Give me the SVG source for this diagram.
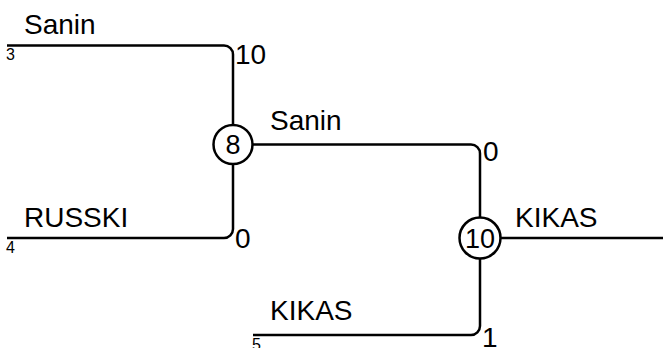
<svg xmlns="http://www.w3.org/2000/svg" width="663" height="348" viewBox="0 0 663 348">
<style>
.ln{fill:none;stroke:#000;stroke-width:2.5}
.nd{fill:#fff;stroke:#000;stroke-width:2.5}
.t{font-family:"Liberation Sans",Arial,sans-serif;font-size:28px;fill:#000}
.s{font-family:"Liberation Sans",Arial,sans-serif;font-size:16px;fill:#000}
.c{font-family:"Liberation Sans",Arial,sans-serif;font-size:27px;fill:#000;text-anchor:middle}
</style>
<rect width="663" height="348" fill="#fff"/>
<g id="connectors">
<path class="ln" d="M7,45.5 H224 A9,9 0 0 1 233,54.5 V125"/>
<path class="ln" d="M7,238 H224 A9,9 0 0 0 233,229 V164"/>
<path class="ln" d="M252,144.5 H471 A9,9 0 0 1 480,153.5 V218"/>
<path class="ln" d="M253,335 H471 A9,9 0 0 0 480,326 V258"/>
<path class="ln" d="M500,238 H663"/>
</g>
<g id="label-sanin-top"><text class="t" x="24" y="34">Sanin</text><text class="s" x="6" y="60">3</text><text class="t" x="235" y="64">10</text></g>
<g id="label-russki"><text class="t" x="24" y="227">RUSSKI</text><text class="s" x="6" y="253">4</text><text class="t" x="235" y="248">0</text></g>
<g id="label-sanin-mid"><text class="t" x="270" y="130">Sanin</text><text class="t" x="483" y="161">0</text></g>
<g id="label-kikas-bottom"><text class="t" x="270" y="320">KIKAS</text><text class="s" x="252" y="350">5</text><text class="t" x="482" y="347">1</text></g>
<g id="label-kikas-right"><text class="t" x="515" y="227">KIKAS</text></g>
<g id="node-8"><circle class="nd" cx="233" cy="144.5" r="19.5"/><text class="c" x="233" y="153.5">8</text></g>
<g id="node-10"><circle class="nd" cx="480" cy="238" r="20.5"/><text class="c" x="480" y="248">10</text></g>
</svg>
